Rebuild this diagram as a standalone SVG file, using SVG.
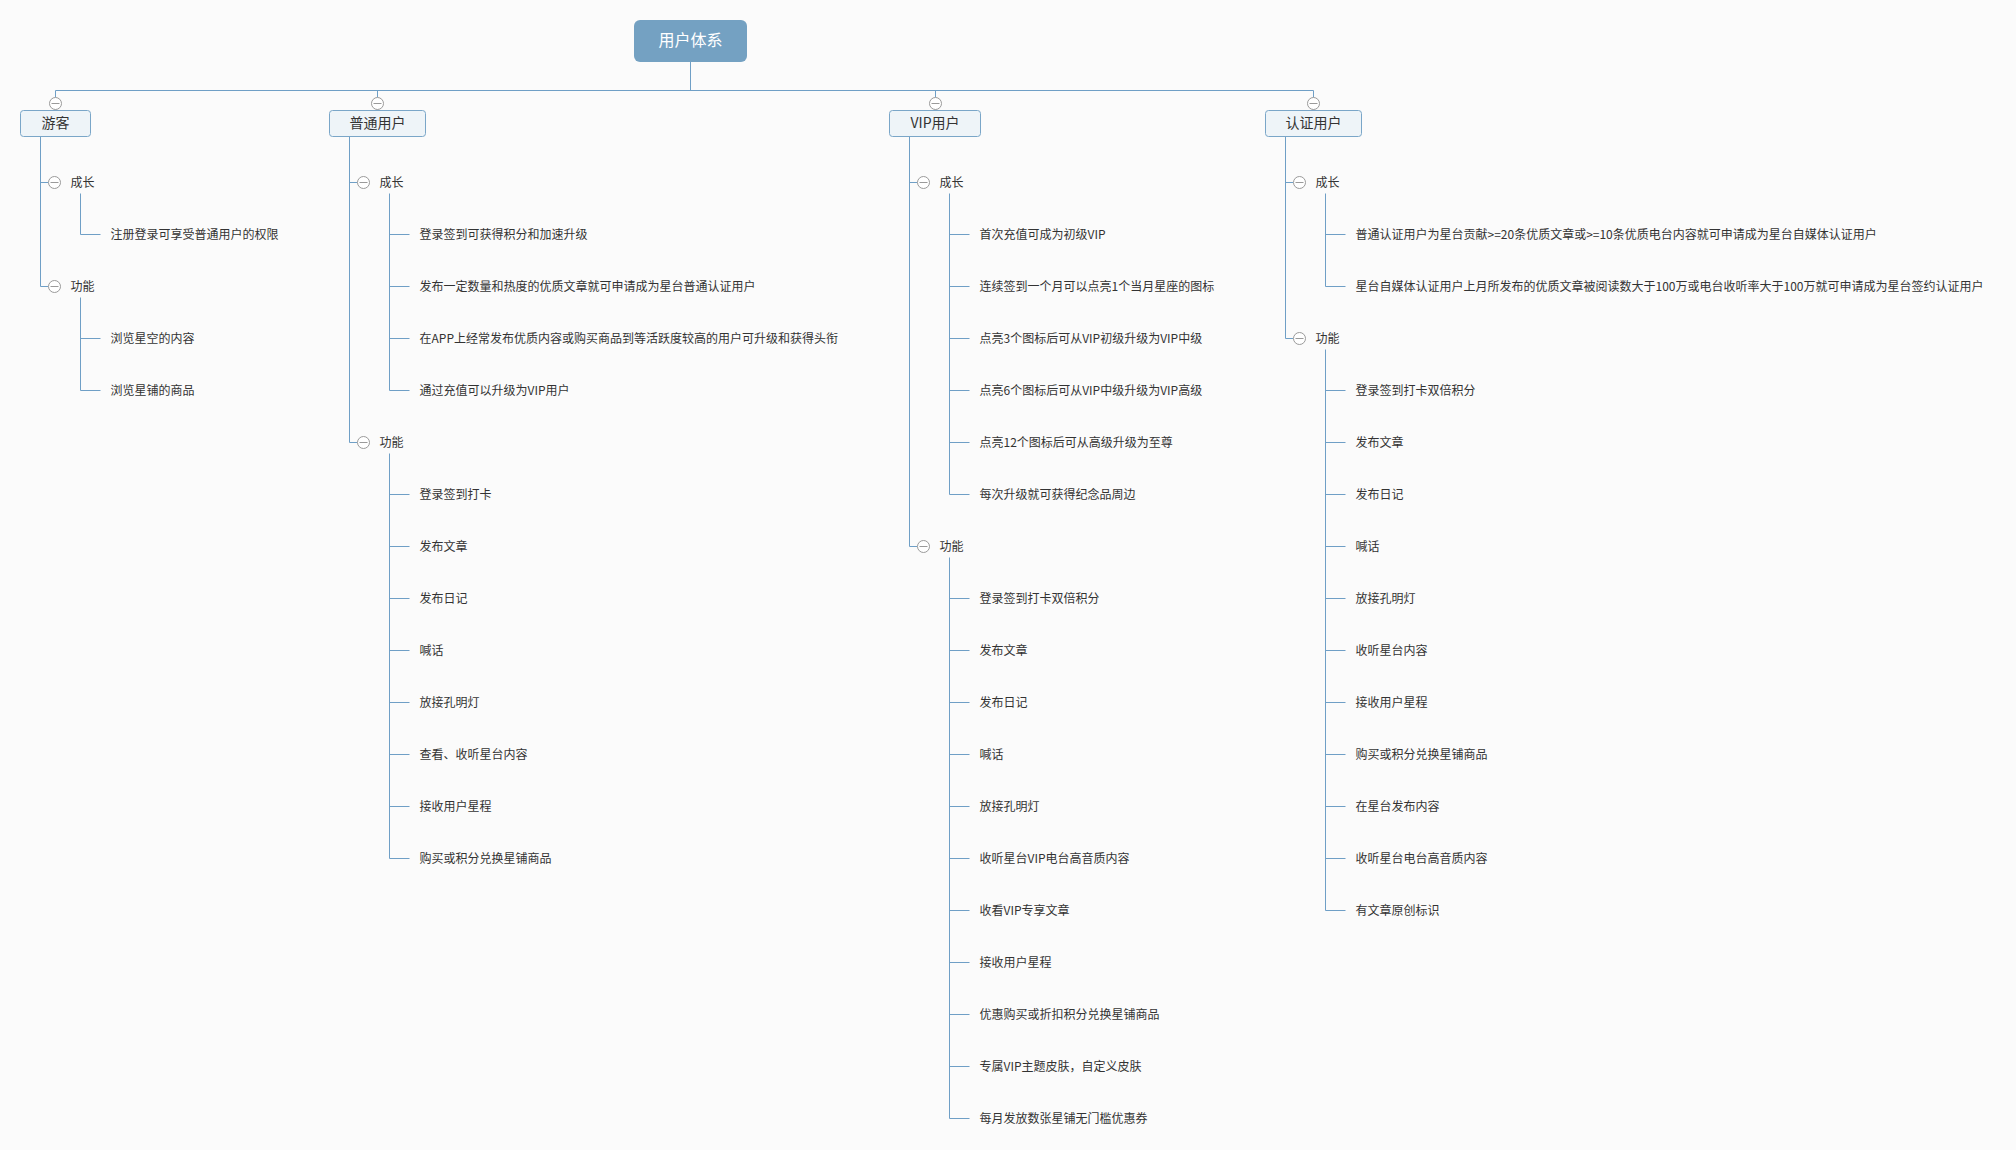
<svg xmlns="http://www.w3.org/2000/svg" width="2016" height="1150" viewBox="0 0 2016 1150">
<style>
.bg{fill:#fbfbfb}
.ln{fill:none;stroke:#6f9fc6;stroke-width:1}
.tg{fill:#fff;stroke:#9a9a9a;stroke-width:1}
.tm{stroke:#9a9a9a;stroke-width:1}
.root{fill:#74a1c2}
.rt{font-family:"Noto Sans CJK SC","Liberation Sans",sans-serif;font-size:16px;fill:#fff;text-anchor:middle;dominant-baseline:central}
.b1{fill:#eef4f8;stroke:#7aa6c8;stroke-width:1}
.t1{font-family:"Noto Sans CJK SC","Liberation Sans",sans-serif;font-size:14px;fill:#333;text-anchor:middle;dominant-baseline:central}
.t2{font-family:"Noto Sans CJK SC","Liberation Sans",sans-serif;font-size:12px;fill:#333;dominant-baseline:central;transform:translateY(-1.5px)}
</style>
<defs>
<g id="tog"><circle class="tg" cx="0" cy="0" r="6"/><line class="tm" x1="-4" y1="0" x2="4" y2="0"/></g>
</defs>
<rect class="bg" x="0" y="0" width="2016" height="1150"/>

<g id="connectors">
<path class="ln" d="M690.5 62 V90.5 M55.5 90.5 H1313.5 M55.5 90.5 V97.5 M377.5 90.5 V97.5 M935.5 90.5 V97.5 M1313.5 90.5 V97.5"/>
<path class="ln" d="M55.5 109.5 V110.5 M377.5 109.5 V110.5 M935.5 109.5 V110.5 M1313.5 109.5 V110.5"/>
<path class="ln" d="M40.5 136.5 V286.5 H48.5 M40.5 182.5 H48.5"/>
<path class="ln" d="M80.5 193.5 V234.5 H100.5"/>
<path class="ln" d="M80.5 297.5 V390.5 H100.5 M80.5 338.5 H100.5"/>
<path class="ln" d="M349.5 136.5 V442.5 H357.5 M349.5 182.5 H357.5"/>
<path class="ln" d="M389.5 193.5 V390.5 H409.5 M389.5 234.5 H409.5 M389.5 286.5 H409.5 M389.5 338.5 H409.5"/>
<path class="ln" d="M389.5 453.5 V858.5 H409.5 M389.5 494.5 H409.5 M389.5 546.5 H409.5 M389.5 598.5 H409.5 M389.5 650.5 H409.5 M389.5 702.5 H409.5 M389.5 754.5 H409.5 M389.5 806.5 H409.5"/>
<path class="ln" d="M909.5 136.5 V546.5 H917.5 M909.5 182.5 H917.5"/>
<path class="ln" d="M949.5 193.5 V494.5 H969.5 M949.5 234.5 H969.5 M949.5 286.5 H969.5 M949.5 338.5 H969.5 M949.5 390.5 H969.5 M949.5 442.5 H969.5"/>
<path class="ln" d="M949.5 557.5 V1118.5 H969.5 M949.5 598.5 H969.5 M949.5 650.5 H969.5 M949.5 702.5 H969.5 M949.5 754.5 H969.5 M949.5 806.5 H969.5 M949.5 858.5 H969.5 M949.5 910.5 H969.5 M949.5 962.5 H969.5 M949.5 1014.5 H969.5 M949.5 1066.5 H969.5"/>
<path class="ln" d="M1285.5 136.5 V338.5 H1293.5 M1285.5 182.5 H1293.5"/>
<path class="ln" d="M1325.5 193.5 V286.5 H1345.5 M1325.5 234.5 H1345.5"/>
<path class="ln" d="M1325.5 349.5 V910.5 H1345.5 M1325.5 390.5 H1345.5 M1325.5 442.5 H1345.5 M1325.5 494.5 H1345.5 M1325.5 546.5 H1345.5 M1325.5 598.5 H1345.5 M1325.5 650.5 H1345.5 M1325.5 702.5 H1345.5 M1325.5 754.5 H1345.5 M1325.5 806.5 H1345.5 M1325.5 858.5 H1345.5"/>
</g>

<g id="root">
<rect class="root" x="634" y="20" width="113" height="42" rx="6"/>
<text class="rt" x="690.5" y="38.5">用户体系</text>
</g>

<g id="n-youke">
<use href="#tog" x="55.5" y="103.5"/>
<rect class="b1" x="20.5" y="110.5" width="70" height="26" rx="3"/>
<text class="t1" x="55.5" y="121.5">游客</text>
</g>
<g id="n-youke-children">
<use href="#tog" x="54.5" y="182.5"/><text class="t2" x="70.5" y="182.5">成长</text>
<text class="t2" x="110.5" y="234.5">注册登录可享受普通用户的权限</text>
<use href="#tog" x="54.5" y="286.5"/><text class="t2" x="70.5" y="286.5">功能</text>
<text class="t2" x="110.5" y="338.5">浏览星空的内容</text>
<text class="t2" x="110.5" y="390.5">浏览星铺的商品</text>
</g>

<g id="n-putong">
<use href="#tog" x="377.5" y="103.5"/>
<rect class="b1" x="329.5" y="110.5" width="96" height="26" rx="3"/>
<text class="t1" x="377.5" y="121.5">普通用户</text>
</g>
<g id="n-putong-children">
<use href="#tog" x="363.5" y="182.5"/><text class="t2" x="379.5" y="182.5">成长</text>
<text class="t2" x="419.5" y="234.5">登录签到可获得积分和加速升级</text>
<text class="t2" x="419.5" y="286.5">发布一定数量和热度的优质文章就可申请成为星台普通认证用户</text>
<text class="t2" x="419.5" y="338.5">在APP上经常发布优质内容或购买商品到等活跃度较高的用户可升级和获得头衔</text>
<text class="t2" x="419.5" y="390.5">通过充值可以升级为VIP用户</text>
<use href="#tog" x="363.5" y="442.5"/><text class="t2" x="379.5" y="442.5">功能</text>
<text class="t2" x="419.5" y="494.5">登录签到打卡</text>
<text class="t2" x="419.5" y="546.5">发布文章</text>
<text class="t2" x="419.5" y="598.5">发布日记</text>
<text class="t2" x="419.5" y="650.5">喊话</text>
<text class="t2" x="419.5" y="702.5">放接孔明灯</text>
<text class="t2" x="419.5" y="754.5">查看、收听星台内容</text>
<text class="t2" x="419.5" y="806.5">接收用户星程</text>
<text class="t2" x="419.5" y="858.5">购买或积分兑换星铺商品</text>
</g>

<g id="n-vip">
<use href="#tog" x="935.5" y="103.5"/>
<rect class="b1" x="889.5" y="110.5" width="91" height="26" rx="3"/>
<text class="t1" x="935" y="121.5">VIP用户</text>
</g>
<g id="n-vip-children">
<use href="#tog" x="923.5" y="182.5"/><text class="t2" x="939.5" y="182.5">成长</text>
<text class="t2" x="979.5" y="234.5">首次充值可成为初级VIP</text>
<text class="t2" x="979.5" y="286.5">连续签到一个月可以点亮1个当月星座的图标</text>
<text class="t2" x="979.5" y="338.5">点亮3个图标后可从VIP初级升级为VIP中级</text>
<text class="t2" x="979.5" y="390.5">点亮6个图标后可从VIP中级升级为VIP高级</text>
<text class="t2" x="979.5" y="442.5">点亮12个图标后可从高级升级为至尊</text>
<text class="t2" x="979.5" y="494.5">每次升级就可获得纪念品周边</text>
<use href="#tog" x="923.5" y="546.5"/><text class="t2" x="939.5" y="546.5">功能</text>
<text class="t2" x="979.5" y="598.5">登录签到打卡双倍积分</text>
<text class="t2" x="979.5" y="650.5">发布文章</text>
<text class="t2" x="979.5" y="702.5">发布日记</text>
<text class="t2" x="979.5" y="754.5">喊话</text>
<text class="t2" x="979.5" y="806.5">放接孔明灯</text>
<text class="t2" x="979.5" y="858.5">收听星台VIP电台高音质内容</text>
<text class="t2" x="979.5" y="910.5">收看VIP专享文章</text>
<text class="t2" x="979.5" y="962.5">接收用户星程</text>
<text class="t2" x="979.5" y="1014.5">优惠购买或折扣积分兑换星铺商品</text>
<text class="t2" x="979.5" y="1066.5">专属VIP主题皮肤，自定义皮肤</text>
<text class="t2" x="979.5" y="1118.5">每月发放数张星铺无门槛优惠券</text>
</g>

<g id="n-renzheng">
<use href="#tog" x="1313.5" y="103.5"/>
<rect class="b1" x="1265.5" y="110.5" width="96" height="26" rx="3"/>
<text class="t1" x="1313.5" y="121.5">认证用户</text>
</g>
<g id="n-renzheng-children">
<use href="#tog" x="1299.5" y="182.5"/><text class="t2" x="1315.5" y="182.5">成长</text>
<text class="t2" x="1355.5" y="234.5">普通认证用户为星台贡献&gt;=20条优质文章或&gt;=10条优质电台内容就可申请成为星台自媒体认证用户</text>
<text class="t2" x="1355.5" y="286.5">星台自媒体认证用户上月所发布的优质文章被阅读数大于100万或电台收听率大于100万就可申请成为星台签约认证用户</text>
<use href="#tog" x="1299.5" y="338.5"/><text class="t2" x="1315.5" y="338.5">功能</text>
<text class="t2" x="1355.5" y="390.5">登录签到打卡双倍积分</text>
<text class="t2" x="1355.5" y="442.5">发布文章</text>
<text class="t2" x="1355.5" y="494.5">发布日记</text>
<text class="t2" x="1355.5" y="546.5">喊话</text>
<text class="t2" x="1355.5" y="598.5">放接孔明灯</text>
<text class="t2" x="1355.5" y="650.5">收听星台内容</text>
<text class="t2" x="1355.5" y="702.5">接收用户星程</text>
<text class="t2" x="1355.5" y="754.5">购买或积分兑换星铺商品</text>
<text class="t2" x="1355.5" y="806.5">在星台发布内容</text>
<text class="t2" x="1355.5" y="858.5">收听星台电台高音质内容</text>
<text class="t2" x="1355.5" y="910.5">有文章原创标识</text>
</g>
</svg>
